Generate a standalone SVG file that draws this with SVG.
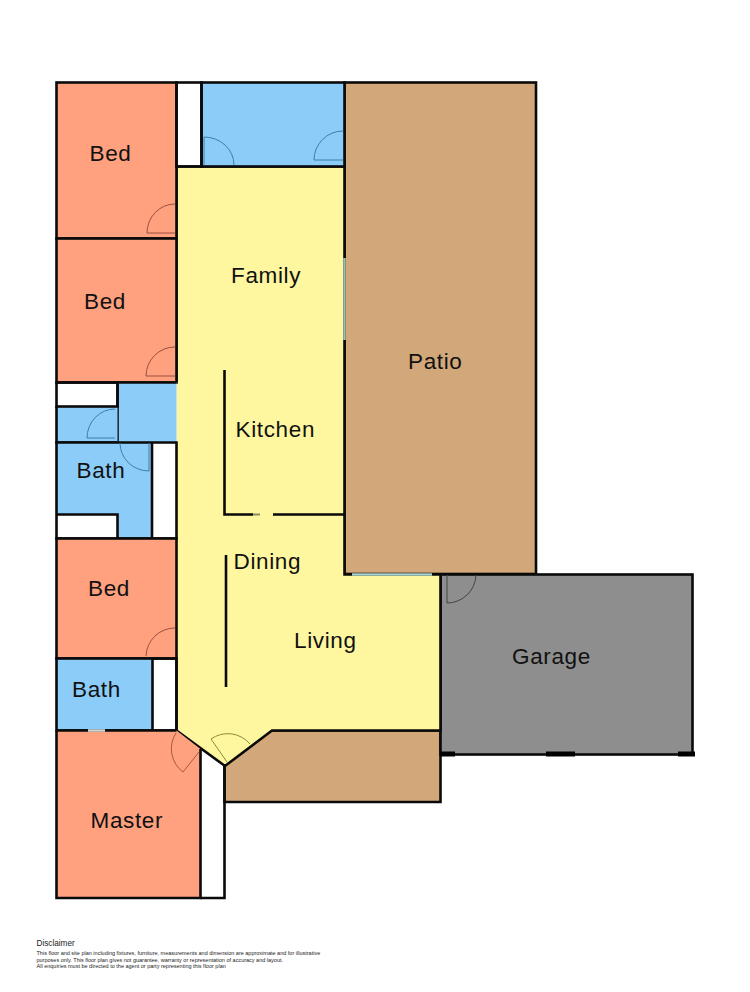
<svg xmlns="http://www.w3.org/2000/svg" width="750" height="992" viewBox="0 0 750 992">
<style>
.bed{fill:#ffa07f}.blue{fill:#8bcdf8}.yel{fill:#fff79f}.tan{fill:#d2a87a}.gar{fill:#8e8e8e}
.w{fill:none;stroke:#0a0a0a;stroke-width:2.6}
.t{font-family:"Liberation Sans",Arial,sans-serif;font-size:22.5px;fill:#111;letter-spacing:.65px}
.d{fill:none;stroke-width:1}
.s{font-family:"Liberation Sans",Arial,sans-serif;font-size:5.5px;fill:#222}
</style>
<rect width="750" height="992" fill="#fff"/>
<g id="patio"><rect class="tan" x="344.500" y="82.500" width="191.500" height="491.500"/><rect class="w" x="344.500" y="82.500" width="191.500" height="491.500"/><text class="t" x="408" y="369">Patio</text></g>
<g id="porch"><path class="tan" d="M272 730.500H440V802H224.500V766Z"/><path class="w" d="M272 730.500H440.500V802H224.500V766"/></g>
<g id="garage"><rect class="gar" x="440.500" y="574.500" width="252" height="180"/><rect class="w" x="440.500" y="574.500" width="252" height="180"/>
<path d="M440 754h15M546 754h29M678 754h17" stroke="#000" stroke-width="5" fill="none"/>
<path class="d" stroke="#444" d="M447 575V603A29 29 0 0 0 476 575"/><text class="t" x="512" y="664">Garage</text></g>
<g id="family-kitchen-dining-living"><path class="yel" d="M176.500 166.500H344.500V574.500H440.500V730.500H272L225 766L176.500 730.500Z"/>
<path class="w" d="M176.500 166.500H344.500V574.500H440.500V730.500H272L225 766L176.500 730.500V660M176.500 382V166.500"/>
<path d="M224.500 370V514.500H253M273 514.500H344M226 555V687" fill="none" stroke="#0a0a0a" stroke-width="2.600"/>
<path d="M253 514.500H260" stroke="#8b8b62" stroke-width="2" fill="none"/>
<path class="d" stroke="#8a8a3a" d="M211 739L227 762M211 739A29 29 0 0 1 250 744"/>
<text class="t" x="231" y="283">Family</text><text class="t" x="235.500" y="437">Kitchen</text><text class="t" x="233.500" y="569">Dining</text><text class="t" x="294" y="648">Living</text></g>
<g id="bed1"><rect class="bed" x="56.500" y="82.500" width="120" height="156"/><rect class="w" x="56.500" y="82.500" width="120" height="156"/><path class="d" stroke="#9a5040" d="M175 233H147A28 29 0 0 1 175 204"/><text class="t" x="89.500" y="161">Bed</text></g>
<g id="bed2"><rect class="bed" x="56.500" y="238.500" width="120" height="144"/><rect class="w" x="56.500" y="238.500" width="120" height="144"/><path class="d" stroke="#9a5040" d="M175 376H146A29 29 0 0 1 175 347"/><text class="t" x="84" y="309">Bed</text></g>
<g id="laundry"><rect class="blue" x="201.500" y="82.500" width="143" height="84"/><rect class="w" x="176.500" y="82.500" width="25" height="84"/><rect class="w" x="201.500" y="82.500" width="143" height="84"/>
<path class="d" stroke="#3f7fa5" d="M204 165V137A30 28 0 0 1 234 165M343 160H314A29 29 0 0 1 343 131"/></g>
<g id="hall"><rect class="blue" x="117.500" y="382.500" width="59" height="60"/><path class="w" d="M117.500 382.500V442.500M117.500 382.500H176.500"/></g>
<g id="wc"><rect class="blue" x="56.500" y="406" width="61" height="36.500"/><rect class="w" x="56.500" y="382.500" width="61" height="24"/><path class="w" d="M56.500 406V442.500H117.500"/><path class="d" stroke="#3f7fa5" d="M115 438H87A28 29 0 0 1 115 409"/></g>
<g id="bath1"><path class="blue" d="M56.500 442.500H152V538.500H117.500V514.500H56.500Z"/><path class="w" d="M56.500 442.500H176.500V538.500H56.500ZM152 442.500V538.500M56.500 514.500H117.500V538.500"/><path class="d" stroke="#3f7fa5" d="M149 443V471A29 28 0 0 1 120 443"/><text class="t" x="76.500" y="478">Bath</text></g>
<g id="bed3"><rect class="bed" x="56.500" y="538.500" width="120" height="120"/><rect class="w" x="56.500" y="538.500" width="120" height="120"/><path class="d" stroke="#9a5040" d="M146 656A29 29 0 0 1 175 628"/><text class="t" x="88" y="596">Bed</text></g>
<g id="bath2"><rect class="blue" x="56.500" y="658.500" width="96" height="72"/><rect class="w" x="56.500" y="658.500" width="120" height="72"/><path class="w" d="M152.500 658.500V730.500"/><text class="t" x="72" y="697">Bath</text></g>
<g id="master"><path class="bed" d="M56.500 730.500H176.500L200.500 749V898H56.500Z"/><path class="w" d="M56.500 730.500H176.500M200.500 749V898H56.500V730.500"/>
<path d="M224.500 766V898H200.500" class="w"/><path d="M88 730.500H105" stroke="#cfd6d6" stroke-width="2.600" fill="none"/>
<path class="d" stroke="#a85a40" d="M199 752L183 772A29 29 0 0 1 176 733"/><text class="t" x="90.500" y="828">Master</text></g>
<g id="windows"><path d="M344.500 258V340" stroke="#9fc0b0" stroke-width="2.500" fill="none"/><path d="M352 574.500H432" stroke="#a8d0c8" stroke-width="2.500" fill="none"/></g>
<g id="disclaimer"><text x="36.500" y="946" font-family="Liberation Sans,Arial,sans-serif" font-size="8.200" fill="#222">Disclaimer</text>
<text class="s" x="36.500" y="955">This floor and site plan including fixtures, furniture, measurements and dimension are approximate and for illustrative</text>
<text class="s" x="36.500" y="961.500">purposes only. This floor plan gives not guarantee, warranty or representation of accuracy and layout.</text>
<text class="s" x="36.500" y="968">All enquiries must be directed to the agent or party representing this floor plan</text></g>
</svg>
